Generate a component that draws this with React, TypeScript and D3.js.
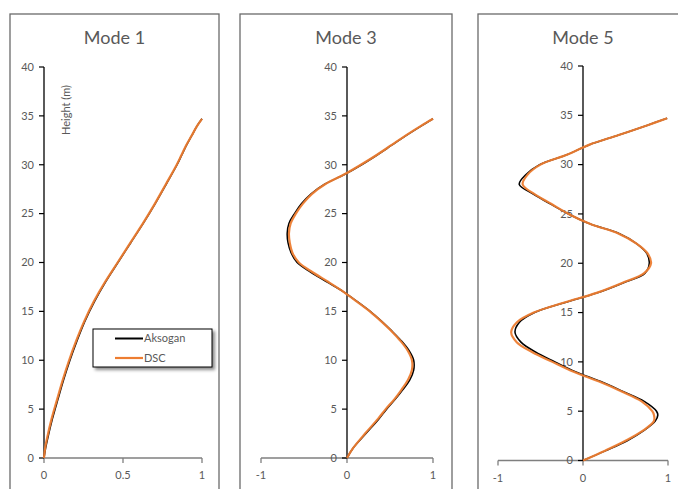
import React from "react";
import * as d3 from "d3";

// Heights along the structure (m) and modal displacements for each mode
const mode1Heights = [0, 1, 2, 4, 6, 8, 10, 12, 14, 16, 18, 20, 22, 24, 26, 28, 30, 31, 32, 33, 34, 34.7];
const mode1Aksogan = [0, 0.01, 0.023, 0.053, 0.088, 0.124, 0.164, 0.209, 0.259, 0.319, 0.389, 0.468, 0.548, 0.628, 0.703, 0.773, 0.842, 0.872, 0.902, 0.936, 0.97, 1.0];
const mode1DSC = [0, 0.007, 0.019, 0.048, 0.083, 0.119, 0.159, 0.204, 0.255, 0.315, 0.386, 0.466, 0.546, 0.626, 0.701, 0.771, 0.84, 0.87, 0.9, 0.935, 0.97, 1.0];

const mode3Heights = [0, 1, 2.5, 4, 5, 6, 7, 8, 9, 10, 11, 12, 13, 14, 15, 16, 17, 18, 19, 20, 21, 22, 23, 24, 25, 26, 27, 28, 29, 30, 31, 32, 33, 34, 34.7];
const mode3Aksogan = [0, 0.07, 0.22, 0.37, 0.46, 0.56, 0.65, 0.73, 0.775, 0.775, 0.72, 0.63, 0.52, 0.4, 0.27, 0.12, -0.04, -0.23, -0.42, -0.58, -0.65, -0.685, -0.695, -0.675, -0.61, -0.53, -0.42, -0.26, -0.03, 0.17, 0.35, 0.52, 0.69, 0.87, 1.0];
const mode3DSC = [0, 0.07, 0.21, 0.36, 0.45, 0.55, 0.635, 0.71, 0.755, 0.755, 0.705, 0.62, 0.515, 0.395, 0.265, 0.115, -0.04, -0.215, -0.4, -0.56, -0.635, -0.665, -0.675, -0.655, -0.595, -0.515, -0.41, -0.255, -0.035, 0.16, 0.345, 0.515, 0.685, 0.865, 1.0];

const mode5Heights = [0, 1, 2, 3, 4, 4.6, 5, 6, 7, 8, 9, 10, 11, 12, 13, 14, 15, 16, 17, 18, 19, 20, 21, 22, 23, 24, 25, 26, 27, 28, 29, 30, 31, 32, 33, 34, 34.7];
const mode5Aksogan = [0, 0.27, 0.52, 0.71, 0.85, 0.88, 0.865, 0.72, 0.47, 0.21, -0.09, -0.33, -0.56, -0.73, -0.8, -0.75, -0.57, -0.22, 0.17, 0.47, 0.73, 0.78, 0.75, 0.63, 0.43, 0.08, -0.17, -0.38, -0.58, -0.75, -0.67, -0.51, -0.19, 0.07, 0.42, 0.76, 0.99];
const mode5DSC = [0, 0.26, 0.5, 0.7, 0.835, 0.835, 0.815, 0.69, 0.455, 0.19, -0.11, -0.36, -0.6, -0.78, -0.845, -0.78, -0.58, -0.23, 0.16, 0.46, 0.72, 0.8, 0.76, 0.63, 0.42, 0.08, -0.17, -0.37, -0.57, -0.71, -0.65, -0.5, -0.19, 0.07, 0.42, 0.76, 0.99];

const heightTicks = [0, 5, 10, 15, 20, 25, 30, 35, 40];
const mode1XTicks = [0, 0.5, 1];
const symXTicks = [-1, 0, 1];
const seriesNames = ["Aksogan", "DSC"];

const FONT = "Lato, 'Open Sans', sans-serif";
const GREY_TEXT = "#595959";
const ORANGE = "#ED7D31";

type PanelProps = {
  title: string;
  left: number;
  right: number;
  top: number;
  xDomain: [number, number];
  xRange: [number, number];
  yRange: [number, number];
  xTicks: number[];
  heights: number[];
  aksogan: number[];
  dsc: number[];
  xLabelY: number;
  children?: React.ReactNode;
};

function Panel(p: PanelProps) {
  const x = d3.scaleLinear().domain(p.xDomain).range(p.xRange);
  const y = d3.scaleLinear().domain([0, 40]).range(p.yRange);
  const x0 = x(0);
  const line = d3
    .line<[number, number]>()
    .x((d) => x(d[0]))
    .y((d) => y(d[1]))
    .curve(d3.curveCatmullRom.alpha(0.5));
  const blackPts = p.heights.map((h, i) => [p.aksogan[i], h] as [number, number]);
  const orangePts = p.heights.map((h, i) => [p.dsc[i], h] as [number, number]);
  const fmt = (v: number) => String(v);
  return (
    <g>
      <rect
        x={p.left}
        y={p.top}
        width={p.right - p.left}
        height={600}
        fill="#fff"
        stroke="#6a6a6a"
        strokeWidth={1.3}
      />
      <text
        x={(p.left + p.right) / 2}
        y={p.top + 30}
        textAnchor="middle"
        fontFamily={FONT}
        fontSize={18}
        fill={GREY_TEXT}
      >
        {p.title}
      </text>
      {/* horizontal axis */}
      <line x1={x(p.xDomain[0])} x2={x(p.xDomain[1])} y1={y(0)} y2={y(0)} stroke="#7f7f7f" strokeWidth={1.3} />
      {p.xTicks.map((t) => (
        <g key={"xt" + t}>
          <line x1={x(t)} x2={x(t)} y1={y(0)} y2={y(0) + 5} stroke="#7f7f7f" strokeWidth={1.3} />
          <text
            x={x(t)}
            y={p.xLabelY}
            textAnchor="middle"
            fontFamily={FONT}
            fontSize={11}
            fill={GREY_TEXT}
          >
            {fmt(t)}
          </text>
        </g>
      ))}
      {/* vertical axis */}
      <line x1={x0} x2={x0} y1={y(0)} y2={y(40)} stroke="#000" strokeWidth={1.3} />
      {heightTicks.map((t) => (
        <g key={"yt" + t}>
          <line x1={x0 - 5} x2={x0} y1={y(t)} y2={y(t)} stroke="#000" strokeWidth={1.2} />
          <text
            x={x0 - 10}
            y={y(t)}
            dy="0.35em"
            textAnchor="end"
            fontFamily={FONT}
            fontSize={11}
            fill={GREY_TEXT}
          >
            {t}
          </text>
        </g>
      ))}
      <path d={line(blackPts) || ""} fill="none" stroke="#000" strokeWidth={1.6} />
      <path d={line(orangePts) || ""} fill="none" stroke={ORANGE} strokeWidth={2.2} strokeOpacity={0.95} />
      {p.children}
    </g>
  );
}

export default function App() {
  return (
    <svg
      width={678}
      height={489}
      style={{ position: "absolute", left: 0, top: 0, background: "#fff" }}
    >
      <defs>
        <filter id="legendShadow" x="-20%" y="-20%" width="150%" height="160%">
          <feDropShadow dx={2.5} dy={2.5} stdDeviation={1.5} floodColor="#000" floodOpacity={0.45} />
        </filter>
      </defs>
      <rect width={678} height={489} fill="#fff" />
      <Panel
        title="Mode 1"
        left={10}
        right={219}
        top={14}
        xDomain={[0, 1]}
        xRange={[44, 202]}
        yRange={[458, 67]}
        xTicks={mode1XTicks}
        heights={mode1Heights}
        aksogan={mode1Aksogan}
        dsc={mode1DSC}
        xLabelY={479}
      >
        <text
          transform="translate(70,110) rotate(-90)"
          textAnchor="middle"
          fontFamily={FONT}
          fontSize={11}
          fill={GREY_TEXT}
        >
          Height (m)
        </text>
        <g>
          <rect x={93} y={329} width={119} height={38} fill="#fff" stroke="#000" strokeWidth={1} filter="url(#legendShadow)" />
          <line x1={115} x2={143} y1={338.5} y2={338.5} stroke="#000" strokeWidth={2} />
          <text x={144} y={338.5} dy="0.35em" fontFamily={FONT} fontSize={11} fill={GREY_TEXT}>
            {seriesNames[0]}
          </text>
          <line x1={115} x2={143} y1={358} y2={358} stroke={ORANGE} strokeWidth={2.2} />
          <text x={144} y={358} dy="0.35em" fontFamily={FONT} fontSize={11} fill={GREY_TEXT}>
            {seriesNames[1]}
          </text>
        </g>
      </Panel>
      <Panel
        title="Mode 3"
        left={240}
        right={452}
        top={14}
        xDomain={[-1, 1]}
        xRange={[261, 433]}
        yRange={[458, 67]}
        xTicks={symXTicks}
        heights={mode3Heights}
        aksogan={mode3Aksogan}
        dsc={mode3DSC}
        xLabelY={479}
      />
      <Panel
        title="Mode 5"
        left={478}
        right={688}
        top={14}
        xDomain={[-1, 1]}
        xRange={[498, 668]}
        yRange={[460.5, 66]}
        xTicks={symXTicks}
        heights={mode5Heights}
        aksogan={mode5Aksogan}
        dsc={mode5DSC}
        xLabelY={482}
      />
    </svg>
  );
}
